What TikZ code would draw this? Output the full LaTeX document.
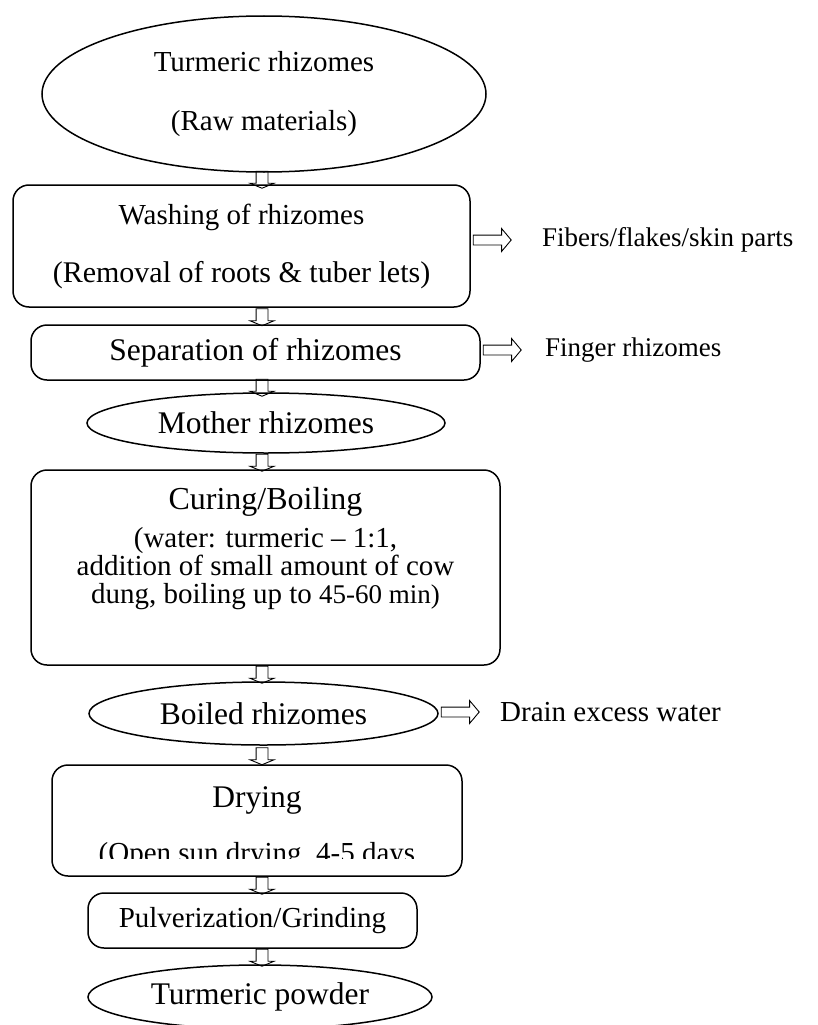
\documentclass[tikz,border=0pt]{standalone}
\usepackage{fontspec}
\setmainfont{Liberation Serif}
\usepackage{tikz}
\usetikzlibrary{shapes.geometric, shapes.arrows, positioning}

\begin{document}
\begin{tikzpicture}[
    x=1pt, y=-1pt,
    oval/.style={draw, ellipse, line width=1.5pt, inner sep=0pt, align=center},
    stage/.style={draw, rectangle, rounded corners=16pt, line width=1.5pt, inner sep=0pt, align=center},
    txt/.style={inner sep=0pt, align=center, font=\fontsize{29}{34}\selectfont},
    big/.style={inner sep=0pt, align=center, font=\fontsize{31.5}{36}\selectfont},
    downblock/.style={draw, single arrow, shape border rotate=270, line width=0.9pt, inner sep=5.5pt, single arrow head extend=6pt, single arrow tip angle=135, minimum height=17pt},
    rightblock/.style={draw, single arrow, line width=0.9pt, inner sep=4.5pt, single arrow head extend=6.5pt, single arrow tip angle=100, minimum height=38pt, anchor=tail}
]
    \useasboundingbox (0,0) rectangle (818,1025);
    \coordinate (axis) at (262,0);

    % main chain
    \node[oval, minimum width=444pt, minimum height=156pt, font=\fontsize{29}{34}\selectfont] (raw) at (264,94) {Turmeric rhizomes\\[25pt](Raw materials)};
    \node[stage, txt, minimum width=457pt, minimum height=122pt] (wash) at (241.5,246) {Washing of rhizomes\\[24pt]{\fontsize{30}{34}\selectfont (Removal of roots \& tuber lets)}};
    \node[stage, big, minimum width=449pt, minimum height=55pt] (sep) at (255.5,352.5) {Separation of rhizomes};
    \node[oval, big, minimum width=358pt, minimum height=60pt] (mother) at (266,423) {Mother rhizomes};
    \node[stage, minimum width=469pt, minimum height=195pt] (curing) at (265.5,567.5) {};
    \node[txt, anchor=north, font=\fontsize{29}{28}\selectfont] (curingtext) at (265.5,487) {{\fontsize{32}{36}\selectfont Curing/Boiling}\\[10pt]
        (water: turmeric -- 1:1,\\
        addition of small amount of cow\\
        dung, boiling up to {\fontsize{27}{28}\selectfont 45-60 min)}};
    \node[oval, big, minimum width=349pt, minimum height=63pt] (boiled) at (263.5,713.5) {Boiled rhizomes};
    \node[stage, minimum width=410pt, minimum height=111pt] (drying) at (257,820.5) {};
    \node[big] (dryingtext) at (257,800) {Drying};
    \begin{scope}
        \clip (drying.north west) rectangle ([yshift=18pt]drying.south east);
        \node[txt, anchor=base] (dryingnote) at (257,862) {(Open sun drying, 4-5 days};
    \end{scope}
    \node[stage, txt, minimum width=329pt, minimum height=55pt] (pulver) at (252.5,920.5) {Pulverization/Grinding};
    \node[oval, big, minimum width=344pt, minimum height=64pt] (powder) at (260,997) {Turmeric powder};

    % side outputs
    \node[txt, anchor=west, font=\fontsize{27}{32}\selectfont] (fibers) at (542,240) {Fibers/flakes/skin parts};
    \node[txt, anchor=west, font=\fontsize{27}{32}\selectfont] (finger) at (545,350) {Finger rhizomes};
    \node[txt, anchor=west] (drain) at (500,712) {Drain excess water};

    % arrows
    \path (axis |- raw.south) -- (axis |- wash.north) node[midway, downblock] (a1) {};
    \path (axis |- wash.south) -- (axis |- sep.north) node[midway, downblock] (a2) {};
    \path (axis |- sep.south) -- (axis |- mother.north) node[midway, downblock] (a3) {};
    \path (axis |- mother.south) -- (axis |- curing.north) node[midway, downblock] (a4) {};
    \path (axis |- curing.south) -- (axis |- boiled.north) node[midway, downblock] (a5) {};
    \path (axis |- boiled.south) -- (axis |- drying.north) node[midway, downblock] (a6) {};
    \path (axis |- drying.south) -- (axis |- pulver.north) node[midway, downblock] (a7) {};
    \path (axis |- pulver.south) -- (axis |- powder.north) node[midway, downblock] (a8) {};

    \node[rightblock] (b1) at ([xshift=2pt]wash.east |- fibers.west) {};
    \node[rightblock] (b2) at ([xshift=2pt]sep.east |- finger.west) {};
    \node[rightblock] (b3) at ([xshift=2pt]boiled.east |- drain.west) {};
\end{tikzpicture}
\end{document}
